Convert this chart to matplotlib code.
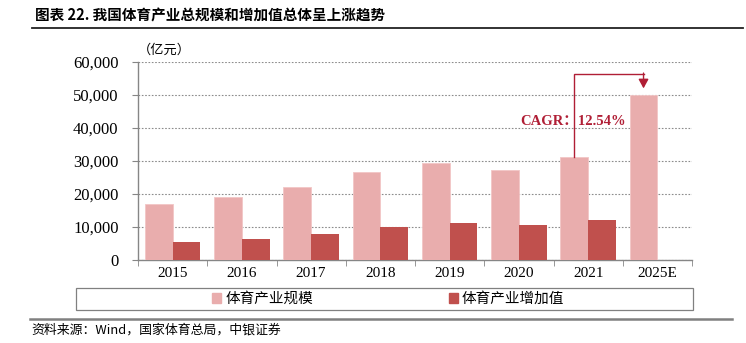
import matplotlib
matplotlib.use("Agg")
import matplotlib.pyplot as plt
import numpy as np
from matplotlib.patches import Rectangle
from matplotlib.lines import Line2D

plt.rcParams['font.family'] = ['Liberation Serif', 'Noto Sans CJK SC', 'DejaVu Sans']

categories = ["2015", "2016", "2017", "2018", "2019", "2020", "2021", "2025E"]
scale_values = [17107, 19011, 21988, 26579, 29483, 27372, 31175, 50000]
added_values = [5494, 6475, 7811, 10078, 11248, 10735, 12245, np.nan]
series_names = ["体育产业规模", "体育产业增加值"]
title_text = "图表 22. 我国体育产业总规模和增加值总体呈上涨趋势"
unit_text = "（亿元）"
cagr_text = "CAGR：12.54%"
source_text = "资料来源：Wind，国家体育总局，中银证券"

c_light = "#E9ADAD"
c_dark = "#C0504D"
c_anno = "#B01E35"

fig = plt.figure(figsize=(7.46, 3.43), dpi=100)
ax = fig.add_axes([138/746, 1-260/343, (692-138)/746, (260-62)/343])

x = np.arange(len(categories))
w = 0.4
ax.bar(x - w/2, scale_values, width=w, color=c_light, edgecolor="#F2C6C6", linewidth=0.6, zorder=3)
ax.bar(x + w/2, added_values, width=w, color=c_dark, zorder=3)

ax.set_xlim(-0.5, len(categories) - 0.5)
ax.set_ylim(0, 60000)
ax.set_yticks(np.arange(0, 60001, 10000))
ax.set_yticklabels([f"{v:,}" for v in range(0, 60001, 10000)], fontsize=12, family=['Liberation Serif'])
ax.set_xticks(x)
ax.set_xticklabels(categories, fontsize=11, family=['Liberation Serif'])
ax.set_xticks(np.arange(-0.5, len(categories), 1), minor=True)
ax.tick_params(axis='x', which='major', length=0, pad=5)
ax.tick_params(axis='x', which='minor', length=4, color="#868686", direction='out')
ax.tick_params(axis='y', length=4, color="#868686", direction='out', pad=10)
for s in ["top", "right"]:
    ax.spines[s].set_visible(False)
for s in ["left", "bottom"]:
    ax.spines[s].set_color("#868686")
    ax.spines[s].set_linewidth(1.0)
ax.yaxis.grid(True, linestyle=(0, (1.5, 1.5)), color="#8C8C8C", linewidth=0.8, zorder=0)
ax.set_axisbelow(True)

# CAGR bracket
i0, i1 = 6, 7
y_top = 56500
ax.plot([x[i0] - w/2, x[i0] - w/2, x[i1] - w/2], [scale_values[i0], y_top, y_top],
        color=c_anno, linewidth=1.0, zorder=4, solid_joinstyle='miter')
ax.annotate("", xy=(x[i1] - w/2, scale_values[i1] + 2000), xytext=(x[i1] - w/2, y_top + 150),
            arrowprops=dict(arrowstyle="-|>,head_length=0.55,head_width=0.3", color=c_anno, lw=1.0,
                            shrinkA=0, shrinkB=0), zorder=4)
ax.text(x[i0] - w/2 - 0.02, 42000, cagr_text, color=c_anno, fontsize=10.5, fontweight='bold',
        ha='center', va='center', family=['Liberation Serif', 'Noto Sans CJK SC'], zorder=5)

# unit label
fig.text(138/746, 1-50/343, unit_text, fontsize=9.5, ha='left', va='center',
         family=['Noto Sans CJK SC'])

# title
fig.text(35/746, 1-15/343, title_text, fontsize=10.5, fontweight='bold', ha='left', va='center',
         family=['Noto Sans CJK SC', 'DejaVu Sans'])
fig.add_artist(Line2D([32/746, 743/746], [1-28/343, 1-28/343], color="#222222", linewidth=1.3))

# legend box
fig.add_artist(Rectangle((76/746, 1-310/343), (693-76)/746, 22/343, fill=False,
                         edgecolor="#808080", linewidth=0.9, transform=fig.transFigure))
handles = [Rectangle((0, 0), 1, 1, color=c_light), Rectangle((0, 0), 1, 1, color=c_dark)]
fig.legend(handles, series_names, loc='center', bbox_to_anchor=(388/746, 1-299/343), ncol=2,
           frameon=False, handlelength=0.65, handleheight=0.65, handletextpad=0.25,
           columnspacing=9.3, prop={'family': ['Noto Sans CJK SC'], 'size': 10.5})

# bottom rule and source
fig.add_artist(Line2D([30/746, 732/746], [1-319/343, 1-319/343], color="#808080", linewidth=1.8))
fig.text(31/746, 1-330/343, source_text, fontsize=9.3, style='italic', ha='left', va='center',
         family=['Noto Sans CJK SC', 'DejaVu Sans'])

fig.savefig("out.png", dpi=100)
